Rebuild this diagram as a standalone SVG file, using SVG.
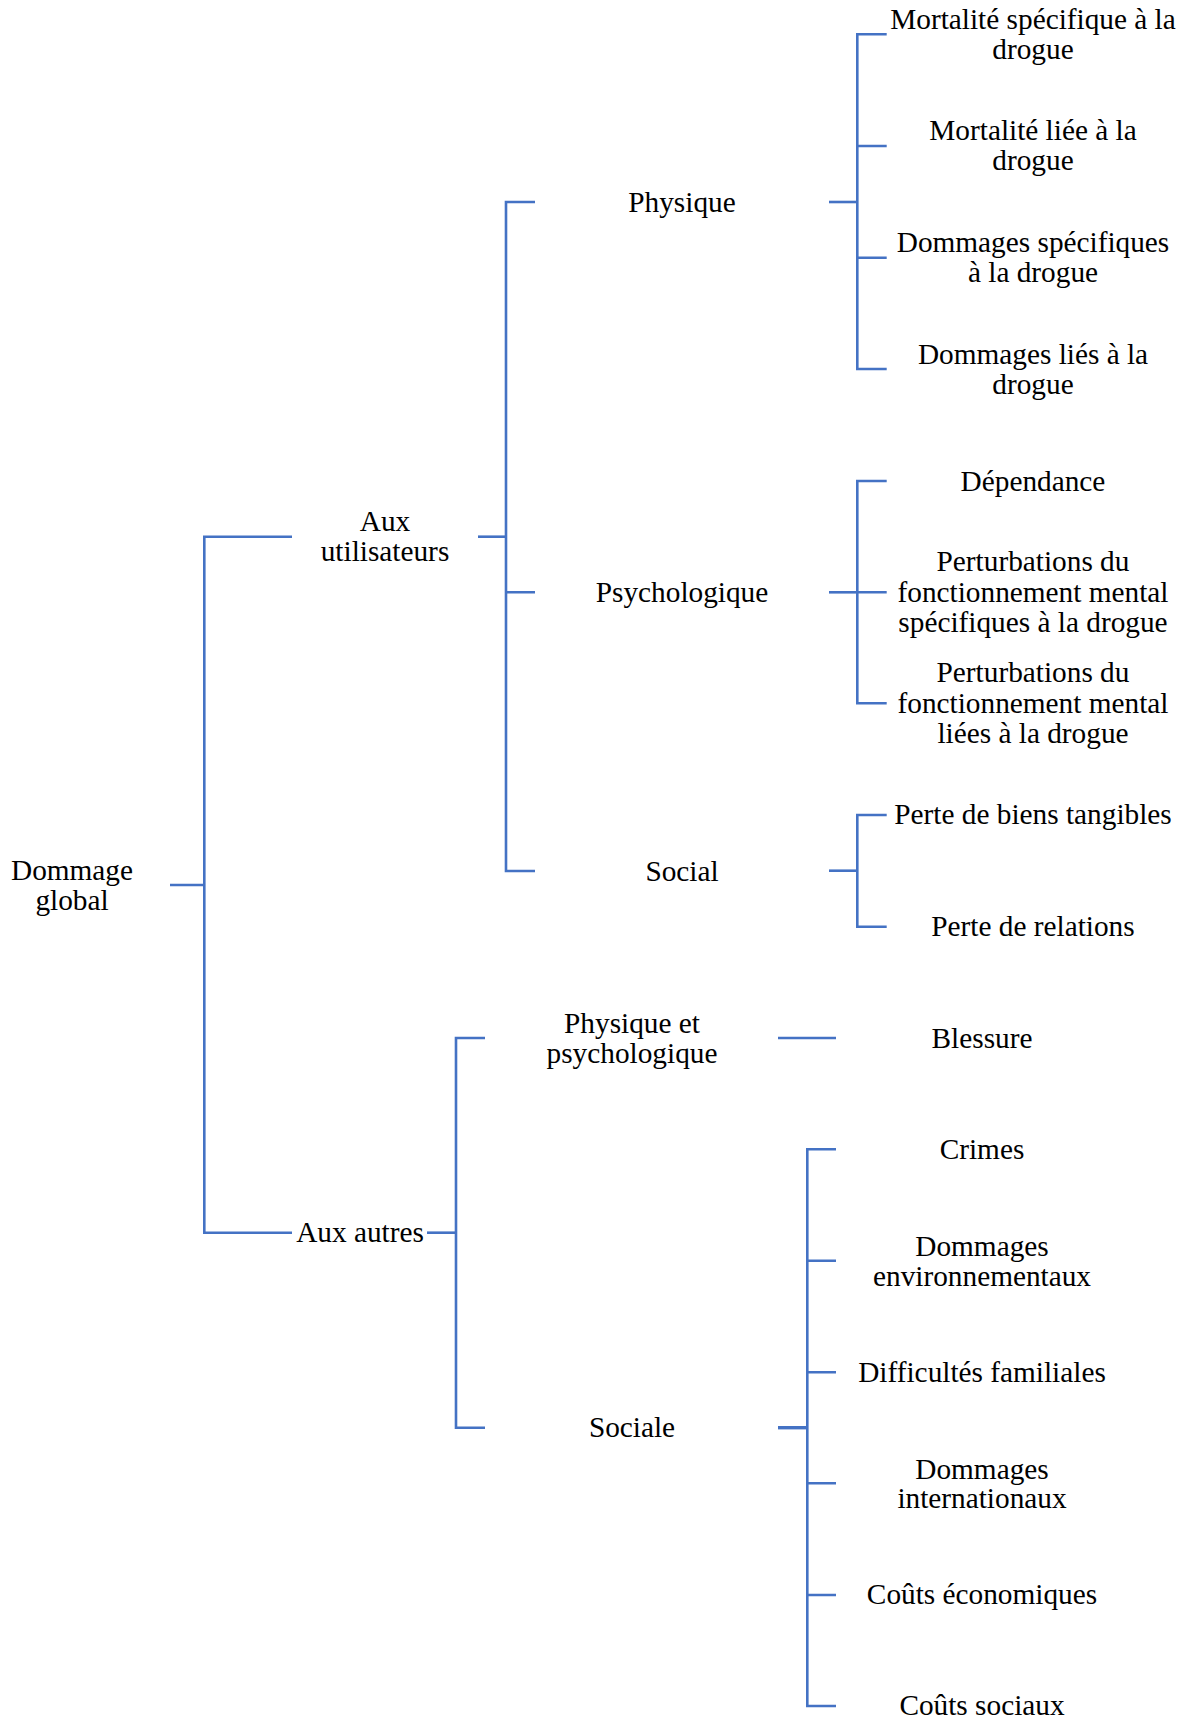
<svg xmlns="http://www.w3.org/2000/svg" width="1186" height="1720" viewBox="0 0 1186 1720">
<style>
text{font-family:"Liberation Serif","Times New Roman",serif;font-size:29.3px;fill:#000;text-anchor:middle}
.c{fill:none;stroke:#4472C4;stroke-width:2.6}
.t{stroke-width:3.4}
</style>
<rect width="1186" height="1720" fill="#fff"/>
<g id="connectors">
<path class="c" d="M170,885H204.3"/>
<path class="c" d="M292,536.7H204.3V1232.7H292"/>
<path class="c" d="M478,536.7H506"/>
<path class="c" d="M535,202H506V871H535M506,592.3H535"/>
<path class="c" d="M829,202H857.3"/>
<path class="c" d="M886.7,34.3H857.3V369H886.7M857.3,146H886.7M857.3,257.7H886.7"/>
<path class="c" d="M829,592.3H857.3"/>
<path class="c" d="M886.7,481H857.3V703.3H886.7M857.3,592.3H886.7"/>
<path class="c" d="M829,870.7H857.3"/>
<path class="c" d="M886.7,815H857.3V926.7H886.7"/>
<path class="c" d="M427,1232.7H456"/>
<path class="c" d="M485,1038H456V1427.7H485"/>
<path class="c" d="M778,1038H836"/>
<path class="c t" d="M778,1427.7H807.3"/>
<path class="c" d="M836,1149.3H807.3V1706H836M807.3,1260.7H836M807.3,1372.3H836M807.3,1483.3H836M807.3,1595H836"/>
</g>
<g transform="translate(0,1)">
<g id="n-dommage-global"><text x="72" y="879">Dommage</text><text x="72" y="908.5">global</text></g>
<g id="n-aux-utilisateurs"><text x="385" y="530">Aux</text><text x="385" y="560">utilisateurs</text></g>
<g id="n-aux-autres"><text x="360" y="1241">Aux autres</text></g>
<g id="n-physique"><text x="682" y="211">Physique</text></g>
<g id="n-psychologique"><text x="682" y="600.7">Psychologique</text></g>
<g id="n-social"><text x="682" y="879.5">Social</text></g>
<g id="n-physique-psycho"><text x="632" y="1031.7">Physique et</text><text x="632" y="1061.5">psychologique</text></g>
<g id="n-sociale"><text x="632" y="1436">Sociale</text></g>
<g id="n-mort-spec"><text x="1033" y="28.3">Mortalité spécifique à la</text><text x="1033" y="58.3">drogue</text></g>
<g id="n-mort-liee"><text x="1033" y="139.3">Mortalité liée à la</text><text x="1033" y="169.3">drogue</text></g>
<g id="n-dom-spec"><text x="1033" y="250.7">Dommages spécifiques</text><text x="1033" y="281">à la drogue</text></g>
<g id="n-dom-lies"><text x="1033" y="362.7">Dommages liés à la</text><text x="1033" y="392.7">drogue</text></g>
<g id="n-dependance"><text x="1033" y="490">Dépendance</text></g>
<g id="n-pert-spec"><text x="1033" y="570">Perturbations du</text><text x="1033" y="600.7">fonctionnement mental</text><text x="1033" y="630.7">spécifiques à la drogue</text></g>
<g id="n-pert-liees"><text x="1033" y="680.7">Perturbations du</text><text x="1033" y="711.7">fonctionnement mental</text><text x="1033" y="741.7">liées à la drogue</text></g>
<g id="n-perte-biens"><text x="1033" y="823.3">Perte de biens tangibles</text></g>
<g id="n-perte-relations"><text x="1033" y="935">Perte de relations</text></g>
<g id="n-blessure"><text x="982" y="1046.7">Blessure</text></g>
<g id="n-crimes"><text x="982" y="1158.3">Crimes</text></g>
<g id="n-dom-env"><text x="982" y="1255">Dommages</text><text x="982" y="1284.5">environnementaux</text></g>
<g id="n-diff-fam"><text x="982" y="1380.5">Difficultés familiales</text></g>
<g id="n-dom-int"><text x="982" y="1477.7">Dommages</text><text x="982" y="1507">internationaux</text></g>
<g id="n-couts-eco"><text x="982" y="1603.3">Coûts économiques</text></g>
<g id="n-couts-soc"><text x="982" y="1714">Coûts sociaux</text></g>
</g>
</svg>
